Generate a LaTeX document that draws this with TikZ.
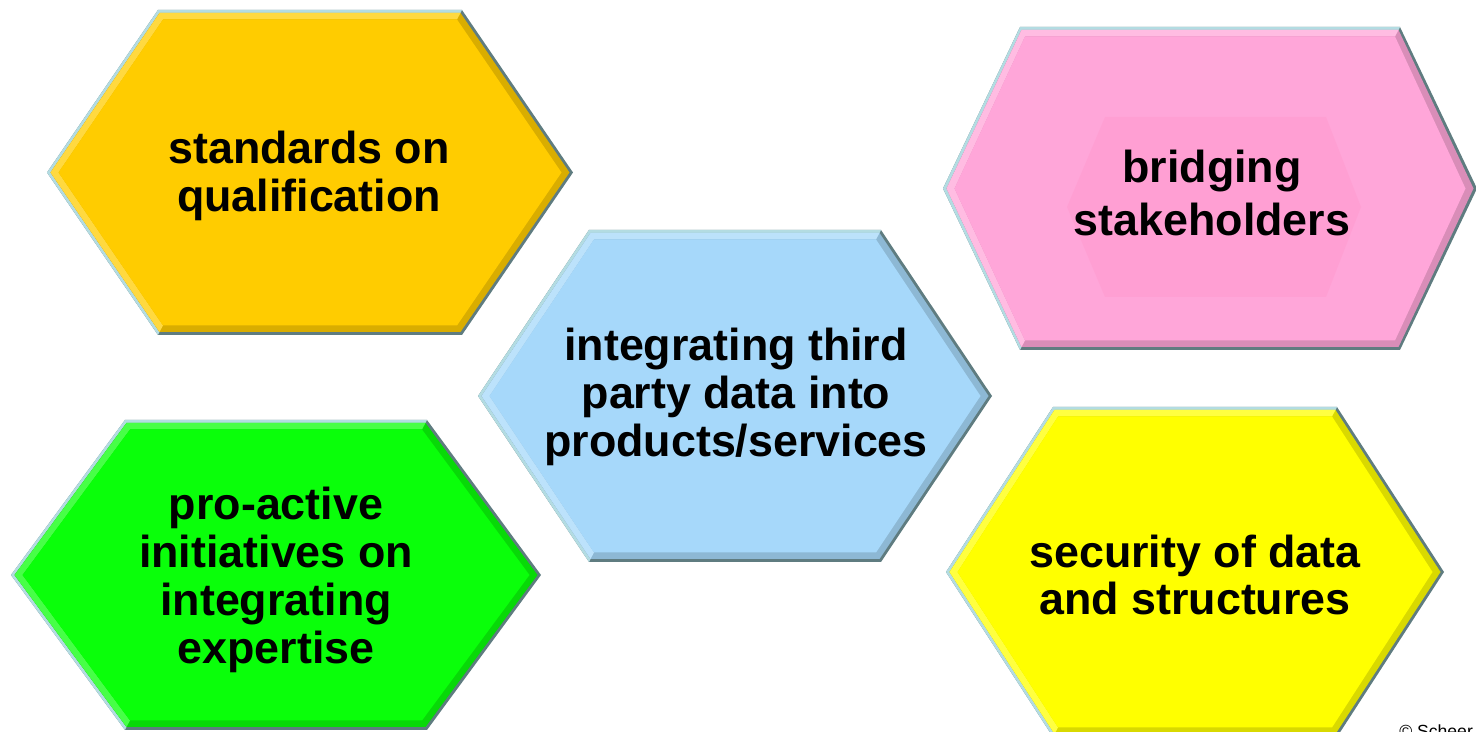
\documentclass[tikz,border=0pt]{standalone}
\usepackage{fontspec}
\setmainfont{Liberation Sans}
\usepackage{tikz}

\definecolor{orangehex}{HTML}{FFCC00}
\definecolor{pinkhex}{HTML}{FFA6D9}
\definecolor{pinkglow}{HTML}{FF9BCF}
\definecolor{bluehex}{HTML}{A6D8FA}
\definecolor{greenhex}{HTML}{0AFF0A}
\definecolor{yellowhex}{HTML}{FFFF00}
\definecolor{rimlight}{HTML}{B3DCE2}
\definecolor{rimdark}{HTML}{5F7C80}

% bevelled hexagon: centre x, centre y, half width, half top edge, half height, colour
\newcommand{\hexcell}[6]{%
  \begin{scope}[shift={(#1,#2)}]
    \fill[rimdark] (-#3,0) -- (-#4,#5) -- (#4,#5) -- (#3,0) -- (#4,-#5) -- (-#4,-#5) -- cycle;
    \fill[rimlight] (-#4,-#5) -- (-#3,0) -- (-#4,#5) -- (#4,#5) -- (#4-0.03,#5-0.06) -- (-#4+0.03,#5-0.06) -- (-#3+0.07,0) -- (-#4+0.03,-#5+0.06) -- cycle;
    \fill[#6!85!black] (-#3+0.07,0) -- (-#4+0.03,#5-0.06) -- (#4-0.03,#5-0.06) -- (#3-0.07,0) -- (#4-0.03,-#5+0.06) -- (-#4+0.03,-#5+0.06) -- cycle;
    \fill[#6!75!white] (-#4+0.03,-#5+0.06) -- (-#3+0.07,0) -- (-#4+0.03,#5-0.06) -- (#4-0.03,#5-0.06) -- (#4-0.1,#5-0.19) -- (-#4+0.1,#5-0.19) -- (-#3+0.23,0) -- (-#4+0.1,-#5+0.19) -- cycle;
    \fill[#6] (-#3+0.23,0) -- (-#4+0.1,#5-0.19) -- (#4-0.1,#5-0.19) -- (#3-0.23,0) -- (#4-0.1,-#5+0.19) -- (-#4+0.1,-#5+0.19) -- cycle;
  \end{scope}}

\begin{document}
\begin{tikzpicture}[hexlabel/.style={font=\bfseries\fontsize{25.5}{27.3}\selectfont, align=center, text=black},
  credit/.style={font=\fontsize{10}{12}\selectfont, inner sep=0pt, anchor=north west}]
  \useasboundingbox (0,0) rectangle (29.52,14.64);

  % the five hexagons
  \hexcell{6.20}{11.19}{5.26}{3.04}{3.25}{orangehex}
  \hexcell{24.20}{10.87}{5.34}{3.80}{3.23}{pinkhex}
  \hexcell{14.70}{6.72}{5.14}{2.92}{3.32}{bluehex}
  \hexcell{5.52}{3.14}{5.30}{3.02}{3.10}{greenhex}
  \hexcell{23.90}{3.20}{4.98}{2.84}{3.30}{yellowhex}

  % soft glow behind the pink label
  \fill[pinkglow, opacity=0.6] (21.34,10.50) -- (22.10,12.30) -- (26.52,12.30) -- (27.22,10.50) -- (26.52,8.70) -- (22.10,8.70) -- cycle;

  % labels
  \node[hexlabel] (qualification) at (6.18,11.12) {standards on\\qualification};
  \node[hexlabel] (stakeholders) at (24.24,10.78) {bridging\\[2.5pt]stakeholders};
  \node[hexlabel] (thirdparty) at (14.72,6.70) {integrating third\\party data into\\products/services};
  \node[hexlabel] (initiatives) at (5.52,3.04) {pro-active\\initiatives on\\integrating\\expertise};
  \node[hexlabel] (security) at (23.90,3.14) {security of data\\and structures};

  \node[credit] (scheer) at (27.98,0.15) {© Scheer};
\end{tikzpicture}
\end{document}
